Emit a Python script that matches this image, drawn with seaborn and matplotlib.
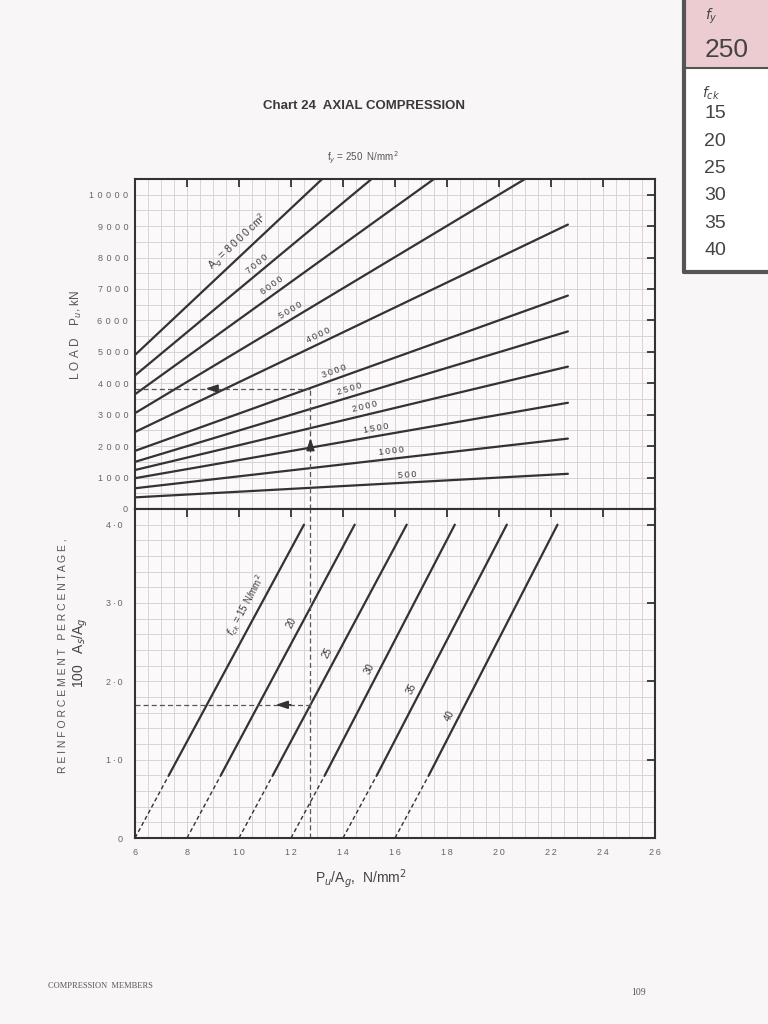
import numpy as np
import pandas as pd
import matplotlib
matplotlib.use('Agg')
import matplotlib.pyplot as plt
from matplotlib.ticker import MultipleLocator, FixedLocator, FixedFormatter
from matplotlib.patches import Rectangle
import seaborn as sns

# ---- data ----
# upper panel: load Pu (kN) against Pu/Ag for each gross area Ag (cm2)
ag_values = ["8000", "7000", "6000", "5000", "4000", "3000", "2500", "2000", "1500", "1000", "500"]
x_start = [6, 6, 6, 6, 6, 6, 6, 6, 6, 6, 6]
load_start = [4900, 4250, 3650, 3050, 2450, 1850, 1500, 1240, 980, 660, 370]
x_end = [13.2, 15.1, 17.5, 21.0, 22.65, 22.65, 22.65, 22.65, 22.65, 22.65, 22.65]
load_end = [10500, 10500, 10500, 10500, 9050, 6790, 5650, 4530, 3380, 2240, 1120]

# lower panel: reinforcement % against Pu/Ag for each concrete grade
fck_values = [15, 20, 25, 30, 35, 40]
x_zero = [6, 8, 10, 12, 14, 16]        # p = 0
x_min = [7.3, 9.3, 11.3, 13.3, 15.3, 17.3]   # p = 0.8 (end of dashed part)
x_max = [12.5, 14.45, 16.45, 18.3, 20.3, 22.25]  # p = 4.0
p_zero, p_min, p_max = 0.0, 0.8, 4.0

# worked example shown with dashed lines
ex_x = 12.75
ex_load = 3830
ex_p = 1.7

x_ticks = [6, 8, 10, 12, 14, 16, 18, 20, 22, 24, 26]
load_ticks = [0, 1000, 2000, 3000, 4000, 5000, 6000, 7000, 8000, 9000, 10000]
p_ticks = [0, 1, 2, 3, 4]
p_ticklabels = ["0", "1·0", "2·0", "3·0", "4·0"]

top_df = pd.DataFrame({
    "Ag": ag_values * 2,
    "x": x_start + x_end,
    "load": load_start + load_end,
})
dash_df = pd.DataFrame({
    "fck": fck_values * 2,
    "x": x_zero + x_min,
    "p": [p_zero] * 6 + [p_min] * 6,
})
solid_df = pd.DataFrame({
    "fck": fck_values * 2,
    "x": x_min + x_max,
    "p": [p_min] * 6 + [p_max] * 6,
})

sns.set_theme(style="white")
plt.rcParams['font.family'] = ['Liberation Sans', 'DejaVu Sans']
plt.rcParams['mathtext.fontset'] = 'dejavusans'

ink = '#333333'
grey = '#666666'
gridc = '#dcd2d5'
paper = '#f8f6f6'
THIN = '\u2009'


def spaced(s, sep=THIN):
    # the scanned chart uses widely tracked lettering
    return sep.join(s)


fig = plt.figure(figsize=(7.68, 10.24), dpi=100, facecolor=paper)
ax_top = fig.add_axes([0.17578, 0.50293, 0.67708, 0.32227])
ax_bot = fig.add_axes([0.17578, 0.18164, 0.67708, 0.32129])

for ax in (ax_top, ax_bot):
    ax.set_facecolor('#fbf9f9')
    ax.set_xlim(6, 26)
    ax.xaxis.set_major_locator(FixedLocator(x_ticks))
    ax.xaxis.set_major_formatter(FixedFormatter([spaced(str(t)) for t in x_ticks]))
    ax.xaxis.set_minor_locator(MultipleLocator(0.5))
    ax.grid(which='both', color=gridc, lw=0.7)
    ax.set_axisbelow(True)
    ax.tick_params(which='major', direction='in', length=6, width=1.3, color=ink,
                   top=True, right=True, labelsize=6.5, labelcolor=grey)
    ax.tick_params(which='minor', length=0)
    for s in ax.spines.values():
        s.set_color(ink)
        s.set_linewidth(1.5)

ax_top.set_ylim(0, 10500)
ax_top.yaxis.set_major_locator(FixedLocator(load_ticks))
ax_top.yaxis.set_major_formatter(FixedFormatter([spaced(str(t), THIN * 2) for t in load_ticks]))
ax_top.yaxis.set_minor_locator(MultipleLocator(500))
ax_top.tick_params(axis='x', labelbottom=False)
ax_top.tick_params(axis='y', pad=5)

ax_bot.set_ylim(0, 4.2)
ax_bot.yaxis.set_major_locator(FixedLocator(p_ticks))
ax_bot.yaxis.set_major_formatter(FixedFormatter([spaced(t) for t in p_ticklabels]))
ax_bot.yaxis.set_minor_locator(MultipleLocator(0.2))
ax_bot.tick_params(axis='x', pad=7)
ax_bot.tick_params(axis='y', pad=9)

# curves
sns.lineplot(data=top_df, x="x", y="load", units="Ag", estimator=None, sort=False,
             color=ink, lw=1.6, ax=ax_top, legend=False)
sns.lineplot(data=dash_df, x="x", y="p", units="fck", estimator=None, sort=False,
             color=ink, lw=1.0, linestyle=(0, (3, 2)), ax=ax_bot, legend=False)
sns.lineplot(data=solid_df, x="x", y="p", units="fck", estimator=None, sort=False,
             color=ink, lw=1.6, ax=ax_bot, legend=False)
for ax in (ax_top, ax_bot):
    ax.set_xlabel("")
    ax.set_ylabel("")


def screen_angle(ax, x0, y0, x1, y1):
    a = ax.transData.transform((x0, y0))
    b = ax.transData.transform((x1, y1))
    return np.degrees(np.arctan2(b[1] - a[1], b[0] - a[0]))


# line labels, upper panel
top_label_x = [10.27, 10.88, 11.46, 12.15, 13.19, 13.77, 14.35, 14.92, 15.31, 15.88, 16.5]
for i, ag in enumerate(ag_values):
    ang = screen_angle(ax_top, x_start[i], load_start[i], x_end[i], load_end[i])
    lx = top_label_x[i]
    ly = np.interp(lx, [x_start[i], x_end[i]], [load_start[i], load_end[i]])
    txt = r"A$_g$ = " + spaced(ag) + r" cm$^2$" if i == 0 else spaced(ag)
    off = 2.5
    ax_top.annotate(txt, (lx, ly), xytext=(-off * np.sin(np.radians(ang)), off * np.cos(np.radians(ang))),
                    textcoords='offset points', rotation=ang, rotation_mode='anchor',
                    ha='center', va='bottom', fontsize=7.5 if i == 0 else 6.5, color='#3c3c3c')

# line labels, lower panel
bot_label_p = [2.89, 2.69, 2.31, 2.11, 1.85, 1.51]
for i, fck in enumerate(fck_values):
    ang = screen_angle(ax_bot, x_min[i], p_min, x_max[i], p_max)
    lp = bot_label_p[i]
    lx = np.interp(lp, [p_min, p_max], [x_min[i], x_max[i]])
    txt = r"$f_{ck}$ = 15 N/mm$^2$" if i == 0 else str(fck)
    off = 3
    ax_bot.annotate(txt, (lx, lp), xytext=(-off * np.sin(np.radians(ang)), off * np.cos(np.radians(ang))),
                    textcoords='offset points', rotation=ang, rotation_mode='anchor',
                    ha='center', va='bottom', fontsize=7, color='#3c3c3c')

# worked example
dash_kw = dict(color='#555555', lw=0.9, linestyle=(0, (4, 2.5)))
ax_top.plot([ex_x, ex_x], [0, ex_load], **dash_kw)
ax_top.plot([6, ex_x], [ex_load, ex_load], **dash_kw)
ax_bot.plot([ex_x, ex_x], [0, 4.2], **dash_kw)
ax_bot.plot([6, ex_x], [ex_p, ex_p], **dash_kw)
arrow_kw = dict(arrowstyle='-|>,head_length=0.6,head_width=0.2', color=ink, lw=1.2)
ax_top.annotate('', xy=(8.6, ex_load), xytext=(9.2, ex_load), arrowprops=arrow_kw)
ax_top.annotate('', xy=(ex_x, 2350), xytext=(ex_x, 1950), arrowprops=arrow_kw)
ax_bot.annotate('', xy=(11.3, ex_p), xytext=(12.1, ex_p), arrowprops=arrow_kw)

# axis titles
fig.text(0.099, 0.673, " ".join("LOAD") + "    " + r"P$_u$, kN", rotation=90, ha='center',
         va='center', fontsize=8.5, color='#555555')
fig.text(0.081, 0.36, "   ".join(" ".join(w) for w in ["REINFORCEMENT", "PERCENTAGE,"]),
         rotation=90, ha='center', va='center', fontsize=7.5, color='#555555')
fig.text(0.104, 0.363, r"100   A$_s$/A$_g$", rotation=90, ha='center', va='center',
         fontsize=10, color='#444444')
fig.text(0.47, 0.142, r"P$_u$/A$_g$,  N/mm$^2$", ha='center', va='center',
         fontsize=10, color='#444444')

# page headings
fig.text(0.474, 0.896, "Chart 24  AXIAL COMPRESSION", ha='center', va='center',
         fontsize=9.5, fontweight='bold', color='#3a3a3a',
         family=['Liberation Sans Narrow', 'Liberation Sans', 'DejaVu Sans'])
fig.text(0.472, 0.846, r"f$_y$ = 250  N/mm$^2$", ha='center', va='center',
         fontsize=7, color='#555555')

# thumb-index tab
fig.patches.append(Rectangle((0.8906, 0.9336), 0.12, 0.07, transform=fig.transFigure,
                             facecolor='#ecccd0', edgecolor='none'))
fig.patches.append(Rectangle((0.8906, 0.7344), 0.12, 0.1992, transform=fig.transFigure,
                             facecolor='white', edgecolor='none'))
fig.add_artist(plt.Line2D([0.8906, 0.8906], [0.7344, 1.0], transform=fig.transFigure,
                          color='#555555', lw=3))
fig.add_artist(plt.Line2D([0.8906, 1.0], [0.7344, 0.7344], transform=fig.transFigure,
                          color='#555555', lw=3))
fig.add_artist(plt.Line2D([0.8906, 1.0], [0.9336, 0.9336], transform=fig.transFigure,
                          color='#555555', lw=1.5))
tab_font = ['Liberation Sans Narrow', 'Liberation Sans', 'DejaVu Sans']
fig.text(0.926, 0.984, r"$f_y$", ha='center', va='center', fontsize=10, color='#444444')
fig.text(0.917, 0.951, "250", ha='left', va='center', fontsize=19, color='#444444', family=tab_font)
fig.text(0.926, 0.909, r"$f_{ck}$", ha='center', va='center', fontsize=10, color='#444444')
for i, fck in enumerate(fck_values):
    fig.text(0.917, 0.889 - i * 0.0267, str(fck), ha='left', va='center', fontsize=14,
             color='#444444', family=tab_font)

# footer
fig.text(0.063, 0.037, "COMPRESSION  MEMBERS", ha='left', va='center', fontsize=6,
         color='#555555', family=['Liberation Serif', 'DejaVu Serif'])
fig.text(0.832, 0.031, "109", ha='center', va='center', fontsize=7,
         color='#555555', family=['Liberation Serif', 'DejaVu Serif'])

fig.savefig("out.png", dpi=100, facecolor=paper)
